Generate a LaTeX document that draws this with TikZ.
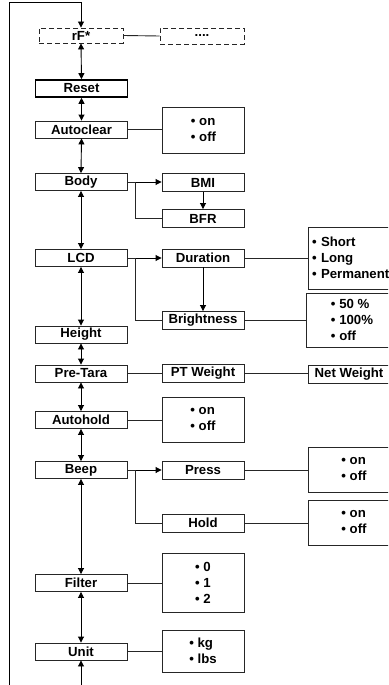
\documentclass[tikz,border=0pt]{standalone}
\usepackage{fontspec}
\setmainfont{Liberation Sans}
\usetikzlibrary{positioning,arrows.meta}

\begin{document}
\begin{tikzpicture}[
  x=1pt, y=1pt,
  font=\fontsize{13.2}{16}\selectfont\bfseries,
  >={Triangle[length=6pt,width=6pt]},
  every node/.style={align=center},
  menubox/.style={draw=black!85, line width=0.9pt, minimum width=92pt,
                  minimum height=17pt, inner sep=0pt},
  resetbox/.style={menubox, draw=black, line width=1.6pt},
  dashbox/.style={menubox, dashed, dash pattern=on 5pt off 3pt},
  subbox/.style={draw=black!85, line width=0.9pt, minimum width=82pt,
                 minimum height=18pt, inner sep=0pt},
  optbox/.style={draw=black!85, line width=0.9pt, minimum width=82pt,
                 minimum height=#1, inner sep=0pt, align=left},
  farbox/.style={draw=black!85, line width=0.9pt, minimum width=92pt,
                 minimum height=#1, inner sep=0pt, align=left},
  arr/.style={->, line width=0.9pt},
  darr/.style={<->, line width=0.9pt},
  link/.style={line width=0.9pt, black!85},
]
\useasboundingbox (0,0) rectangle (388,-685);
\clip (0,0) rectangle (388,-685);

% --- main menu column ---
\node[dashbox, minimum width=84pt, minimum height=15pt] (rf) at (81,-35.5) {rF*};
\node[resetbox]  (reset)     at (81.5,-88.5) {Reset};
\node[menubox]   (autoclear) at (81.5,-129.5) {Autoclear};
\node[menubox]   (body)      at (81,-182) {Body};
\node[menubox]   (lcd)       at (81,-258) {LCD};
\node[menubox]   (height)    at (81,-334.5) {Height};
\node[menubox]   (pretara)   at (81,-373.5) {Pre-Tara};
\node[menubox]   (autohold)  at (81,-420) {Autohold};
\node[menubox]   (beep)      at (81,-470) {Beep};
\node[menubox]   (filter)    at (81,-583) {Filter};
\node[menubox]   (unit)      at (81,-651.5) {Unit};

% --- second column ---
\node[dashbox, minimum width=84pt, minimum height=16pt] (dots) at (202,-36) {....};
\node[optbox=46pt] (autoclearopt) at (203.5,-130) {\textbullet{} on\\\textbullet{} off};
\node[subbox] (bmi)        at (203,-182.5) {BMI};
\node[subbox] (bfr)        at (203,-218.5) {BFR};
\node[subbox] (duration)   at (203,-258) {Duration};
\node[subbox] (brightness) at (203,-320.5) {Brightness};
\node[subbox] (ptweight)   at (203,-373.5) {PT Weight};
\node[optbox=45pt] (autoholdopt) at (203,-419.5) {\textbullet{} on\\\textbullet{} off};
\node[subbox] (press)      at (203,-470) {Press};
\node[subbox] (hold)       at (203,-523) {Hold};
\node[optbox=59pt] (filteropt) at (203,-582.5) {\textbullet{} 0\\\textbullet{} 1\\\textbullet{} 2};
\node[optbox=42pt] (unitopt)   at (203,-651) {\textbullet{} kg\\\textbullet{} lbs};

% --- third column (runs past the right edge) ---
\node[farbox=62pt, text width=84pt, inner xsep=4pt] (durationopt) at (354,-258)
  {\textbullet{} Short\\\textbullet{} Long\\\textbullet{} Permanent};
\node[farbox=54pt] (brightopt) at (352,-320) {\textbullet{} 50 \%\\\textbullet{} 100\%\\\textbullet{} off};
\node[farbox=18pt, minimum width=82pt] (netweight) at (349,-374) {Net Weight};
\node[farbox=45pt] (pressopt) at (354,-469.5) {\textbullet{} on\\\textbullet{} off};
\node[farbox=45pt] (holdopt)  at (354,-522.5) {\textbullet{} on\\\textbullet{} off};

% --- loop back from Unit to rF* ---
\coordinate (looptop) at (9,-2);
\coordinate (loopbot) at (9,-700);
\draw[darr] (unit.south) |- (loopbot) -- (looptop) -| (rf.north);

% --- main column arrows ---
\draw[darr] (rf.south) -- (reset.north);
\draw[darr] (reset.south) -- (autoclear.north);
\draw[darr] (autoclear.south) -- (body.north);
\draw[darr] (body.south) -- (lcd.north);
\draw[darr] (lcd.south) -- (height.north);
\draw[darr] (height.south) -- (pretara.north);
\draw[darr] (pretara.south) -- (autohold.north);
\draw[darr] (autohold.south) -- (beep.north);
\draw[darr] (beep.south) -- (filter.north);
\draw[darr] (filter.south) -- (unit.north);

% --- branches ---
\draw[link] (rf.east) -- (dots.west);
\draw[link] (autoclear.east) -- (autoclearopt.west |- autoclear.east);
\draw[arr] (body.east) -- (bmi.west |- body.east);
\draw[link] (body.east) -- ++(8,0) |- (bfr.west);
\draw[arr] (bmi.south) -- (bfr.north);
\draw[arr] (lcd.east) -- (duration.west);
\draw[link] (lcd.east) -- ++(8,0) |- (brightness.west);
\draw[arr] (duration.south) -- (brightness.north);
\draw[link] (duration.east) -- (durationopt.west);
\draw[link] (brightness.east) -- (brightopt.west |- brightness.east);
\draw[link] (pretara.east) -- (ptweight.west);
\draw[link] (ptweight.east) -- (netweight.west |- ptweight.east);
\draw[link] (autohold.east) -- (autoholdopt.west |- autohold.east);
\draw[arr] (beep.east) -- (press.west);
\draw[link] (beep.east) -- ++(8,0) |- (hold.west);
\draw[link] (press.east) -- (pressopt.west |- press.east);
\draw[link] (hold.east) -- (holdopt.west |- hold.east);
\draw[link] (filter.east) -- (filteropt.west |- filter.east);
\draw[link] (unit.east) -- (unitopt.west |- unit.east);
\end{tikzpicture}
\end{document}
